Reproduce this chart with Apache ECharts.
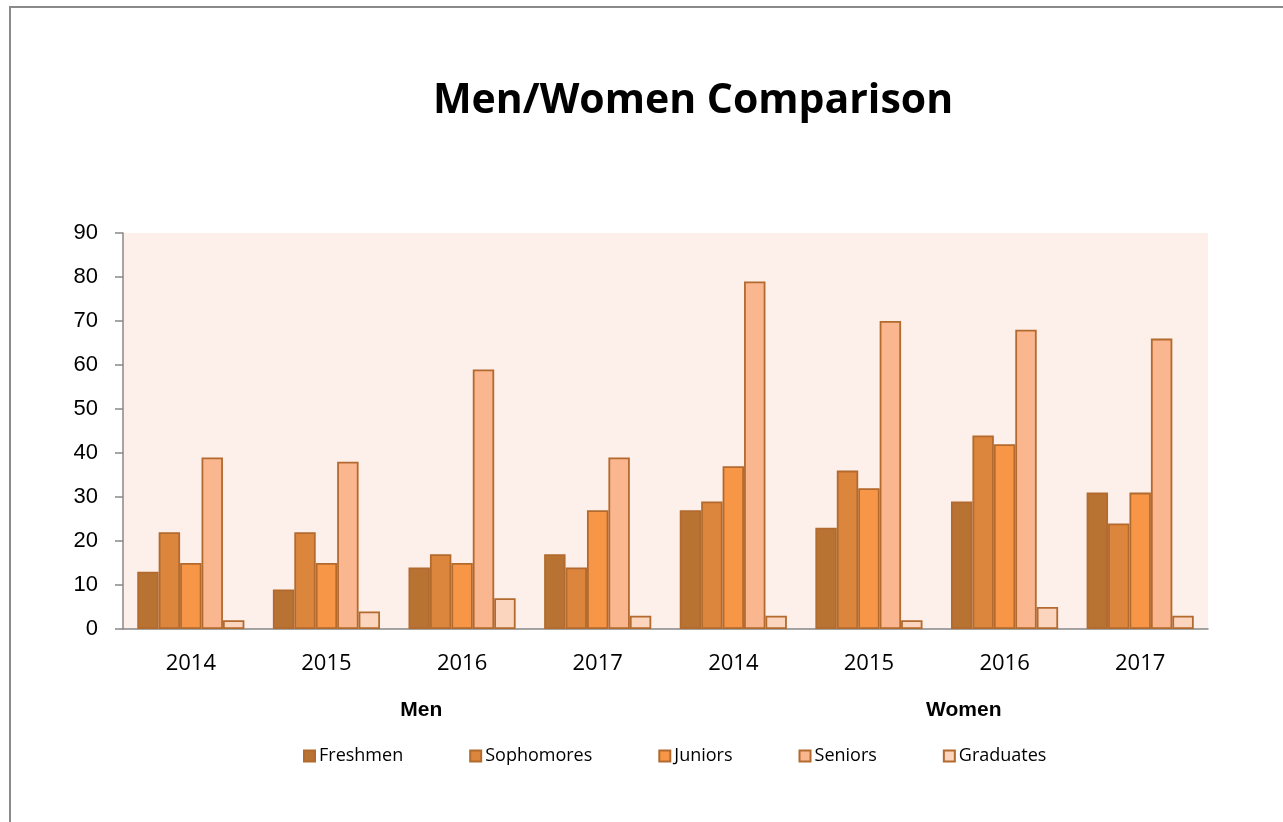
<!DOCTYPE html>
<html>
<head>
<meta charset="utf-8">
<script src="https://cdn.jsdelivr.net/npm/echarts@6/dist/echarts.min.js"></script>
<style>
  html, body { margin: 0; padding: 0; background: #fff; }
  #chart { width: 1283px; height: 822px; }
</style>
</head>
<body>
<div id="chart"></div>
<script>
// years along the axis, group labels underneath
const years = ['2014', '2015', '2016', '2017', '2014', '2015', '2016', '2017']
const groups = ['Men', 'Women']

const freshmen = [13, 9, 14, 17, 27, 23, 29, 31]
const sophomores = [22, 22, 17, 14, 29, 36, 44, 24]
const juniors = [15, 15, 15, 27, 37, 32, 42, 31]
const seniors = [39, 38, 59, 39, 79, 70, 68, 66]
const graduates = [2, 4, 7, 3, 3, 2, 5, 3]

const yTicks = [0, 10, 20, 30, 40, 50, 60, 70, 80, 90]

const chart = echarts.init(document.getElementById('chart'))
const edge = '#B36A2E'

function bar (name, data, color) {
  return {
    name: name,
    type: 'bar',
    data: data,
    barGap: '0%',
    barCategoryGap: '21%',
    itemStyle: { color: color, borderColor: edge, borderWidth: 1.8 }
  }
}

const option = {
  animation: false,
  title: {
    text: 'Men/Women Comparison',
    left: 688,
    top: 76,
    textAlign: 'center',
    textStyle: { fontFamily: 'Open Sans', fontWeight: 'bold', fontSize: 41, color: '#000' }
  },
  graphic: [{
    type: 'rect',
    shape: { x: 10, y: 7, width: 1400, height: 900 },
    style: { fill: 'none', stroke: '#8a8a8a', lineWidth: 2 },
    silent: true
  }],
  grid: {
    left: 123, right: 75, top: 233, bottom: 193,
    show: true, backgroundColor: '#FDEFE9', borderWidth: 0
  },
  legend: {
    top: 742,
    left: 298,
    itemWidth: 11,
    itemHeight: 11,
    itemGap: 66,
    icon: 'rect',
    textStyle: { fontFamily: 'Open Sans', fontSize: 18, color: '#000', padding: [0, 0, 0, -1] }
  },
  xAxis: [{
    type: 'category',
    data: years,
    axisLine: { lineStyle: { color: '#888', width: 1.5 } },
    axisTick: { length: 8, lineStyle: { color: '#888', width: 1.5 } },
    axisLabel: { margin: 24, fontFamily: 'Open Sans', fontSize: 22, color: '#000' }
  }, {
    type: 'category',
    data: groups,
    position: 'bottom',
    axisLine: { show: false },
    axisTick: { show: false },
    axisLabel: {
      margin: 71, fontFamily: 'Liberation Sans', fontWeight: 'bold', fontSize: 21, color: '#000',
      padding: [0, 0, 0, 54]
    }
  }],
  yAxis: {
    type: 'value',
    min: yTicks[0],
    max: yTicks[yTicks.length - 1],
    interval: 10,
    splitLine: { show: false },
    axisLine: { show: true, lineStyle: { color: '#888', width: 1.5 } },
    axisTick: { show: true, length: 8, lineStyle: { color: '#888', width: 1.5 } },
    axisLabel: { margin: 25, fontFamily: 'Liberation Sans', fontSize: 22, color: '#000' }
  },
  series: [
    bar('Freshmen', freshmen, '#B87333'),
    bar('Sophomores', sophomores, '#DC853D'),
    bar('Juniors', juniors, '#F79646'),
    bar('Seniors', seniors, '#FAB68E'),
    bar('Graduates', graduates, '#FCD5BF')
  ]
}

chart.setOption(option)
</script>
</body>
</html>
